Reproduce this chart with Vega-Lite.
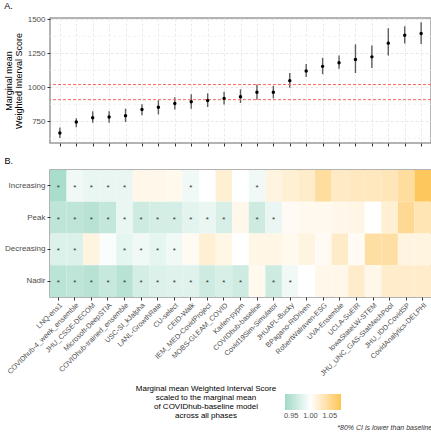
{
  "$schema": "https://vega.github.io/schema/vega-lite/v6.json",
  "padding": {"left": 3, "top": 1, "right": 1, "bottom": 2},
  "background": "white",
  "config": {
    "font": "Liberation Sans",
    "view": {"stroke": "#9a9a9a", "strokeWidth": 1.5},
    "axis": {"labelFont": "Liberation Sans", "labelColor": "#4d4d4d", "labelFontSize": 8, "tickColor": "#333333", "tickSize": 3, "domain": false, "titleFontWeight": "normal", "titleColor": "#000000", "labelPadding": 2},
    "title": {"fontWeight": "normal", "font": "Liberation Sans"}
  },
  "datasets": {
    "scores": [
      {"model": "LNQ-ens1", "wis": 663, "lo": 626, "hi": 705},
      {"model": "COVIDhub-4_week_ensemble", "wis": 745, "lo": 706, "hi": 773},
      {"model": "JHU_CSSE-DECOM", "wis": 776, "lo": 739, "hi": 823},
      {"model": "Microsoft-DeepSTIA", "wis": 781, "lo": 739, "hi": 823},
      {"model": "COVIDhub-trained_ensemble", "wis": 791, "lo": 744, "hi": 843},
      {"model": "USC-SI_kJalpha", "wis": 836, "lo": 794, "hi": 876},
      {"model": "LANL-GrowthRate", "wis": 853, "lo": 801, "hi": 905},
      {"model": "CU-select", "wis": 881, "lo": 836, "hi": 926},
      {"model": "CEID-Walk", "wis": 893, "lo": 843, "hi": 948},
      {"model": "IEM_MED-CovidProject", "wis": 903, "lo": 855, "hi": 955},
      {"model": "MOBS-GLEAM_COVID", "wis": 918, "lo": 873, "hi": 967},
      {"model": "Karlen-pypm", "wis": 930, "lo": 885, "hi": 985},
      {"model": "COVIDhub-baseline", "wis": 963, "lo": 909, "hi": 1020},
      {"model": "Covid19Sim-Simulator", "wis": 963, "lo": 918, "hi": 1010},
      {"model": "JHUAPL-Bucky", "wis": 1049, "lo": 997, "hi": 1105},
      {"model": "BPagano-RtDriven", "wis": 1120, "lo": 1075, "hi": 1172},
      {"model": "RobertWalraven-ESG", "wis": 1154, "lo": 1097, "hi": 1217},
      {"model": "UVA-Ensemble", "wis": 1181, "lo": 1137, "hi": 1234},
      {"model": "UCLA-SuEIR", "wis": 1204, "lo": 1105, "hi": 1316},
      {"model": "IowaStateLW-STEM", "wis": 1224, "lo": 1142, "hi": 1308},
      {"model": "JHU_UNC_GAS-StatMechPool", "wis": 1325, "lo": 1234, "hi": 1435},
      {"model": "JHU_IDD-CovidSP", "wis": 1383, "lo": 1323, "hi": 1450},
      {"model": "CovidAnalytics-DELPHI", "wis": 1396, "lo": 1318, "hi": 1478}
    ],
    "refs": [{"value": 909}, {"value": 1020}],
    "minor": [{"v": 625}, {"v": 875}, {"v": 1125}, {"v": 1375}],
    "heat": [
      {"model": "LNQ-ens1", "phase": "Increasing", "value": 0.940, "sig": "*"},
      {"model": "COVIDhub-4_week_ensemble", "phase": "Increasing", "value": 0.990, "sig": "*"},
      {"model": "JHU_CSSE-DECOM", "phase": "Increasing", "value": 0.985, "sig": "*"},
      {"model": "Microsoft-DeepSTIA", "phase": "Increasing", "value": 0.985, "sig": "*"},
      {"model": "COVIDhub-trained_ensemble", "phase": "Increasing", "value": 0.985, "sig": "*"},
      {"model": "USC-SI_kJalpha", "phase": "Increasing", "value": 1.010, "sig": ""},
      {"model": "LANL-GrowthRate", "phase": "Increasing", "value": 1.010, "sig": ""},
      {"model": "CU-select", "phase": "Increasing", "value": 1.008, "sig": ""},
      {"model": "CEID-Walk", "phase": "Increasing", "value": 0.990, "sig": "*"},
      {"model": "IEM_MED-CovidProject", "phase": "Increasing", "value": 1.000, "sig": ""},
      {"model": "MOBS-GLEAM_COVID", "phase": "Increasing", "value": 1.020, "sig": ""},
      {"model": "Karlen-pypm", "phase": "Increasing", "value": 1.000, "sig": ""},
      {"model": "COVIDhub-baseline", "phase": "Increasing", "value": 0.990, "sig": "*"},
      {"model": "Covid19Sim-Simulator", "phase": "Increasing", "value": 1.015, "sig": ""},
      {"model": "JHUAPL-Bucky", "phase": "Increasing", "value": 1.020, "sig": ""},
      {"model": "BPagano-RtDriven", "phase": "Increasing", "value": 1.025, "sig": ""},
      {"model": "RobertWalraven-ESG", "phase": "Increasing", "value": 1.045, "sig": ""},
      {"model": "UVA-Ensemble", "phase": "Increasing", "value": 1.027, "sig": ""},
      {"model": "UCLA-SuEIR", "phase": "Increasing", "value": 1.030, "sig": ""},
      {"model": "IowaStateLW-STEM", "phase": "Increasing", "value": 1.030, "sig": ""},
      {"model": "JHU_UNC_GAS-StatMechPool", "phase": "Increasing", "value": 1.033, "sig": ""},
      {"model": "JHU_IDD-CovidSP", "phase": "Increasing", "value": 1.045, "sig": ""},
      {"model": "CovidAnalytics-DELPHI", "phase": "Increasing", "value": 1.075, "sig": ""},

      {"model": "LNQ-ens1", "phase": "Peak", "value": 0.955, "sig": "*"},
      {"model": "COVIDhub-4_week_ensemble", "phase": "Peak", "value": 0.955, "sig": "*"},
      {"model": "JHU_CSSE-DECOM", "phase": "Peak", "value": 0.950, "sig": "*"},
      {"model": "Microsoft-DeepSTIA", "phase": "Peak", "value": 0.958, "sig": "*"},
      {"model": "COVIDhub-trained_ensemble", "phase": "Peak", "value": 0.985, "sig": "*"},
      {"model": "USC-SI_kJalpha", "phase": "Peak", "value": 0.965, "sig": "*"},
      {"model": "LANL-GrowthRate", "phase": "Peak", "value": 0.970, "sig": "*"},
      {"model": "CU-select", "phase": "Peak", "value": 0.970, "sig": "*"},
      {"model": "CEID-Walk", "phase": "Peak", "value": 0.980, "sig": "*"},
      {"model": "IEM_MED-CovidProject", "phase": "Peak", "value": 0.985, "sig": "*"},
      {"model": "MOBS-GLEAM_COVID", "phase": "Peak", "value": 0.972, "sig": "*"},
      {"model": "Karlen-pypm", "phase": "Peak", "value": 1.010, "sig": ""},
      {"model": "COVIDhub-baseline", "phase": "Peak", "value": 0.965, "sig": "*"},
      {"model": "Covid19Sim-Simulator", "phase": "Peak", "value": 0.985, "sig": "*"},
      {"model": "JHUAPL-Bucky", "phase": "Peak", "value": 1.005, "sig": ""},
      {"model": "BPagano-RtDriven", "phase": "Peak", "value": 1.008, "sig": ""},
      {"model": "RobertWalraven-ESG", "phase": "Peak", "value": 1.008, "sig": ""},
      {"model": "UVA-Ensemble", "phase": "Peak", "value": 1.010, "sig": ""},
      {"model": "UCLA-SuEIR", "phase": "Peak", "value": 1.012, "sig": ""},
      {"model": "IowaStateLW-STEM", "phase": "Peak", "value": 1.000, "sig": ""},
      {"model": "JHU_UNC_GAS-StatMechPool", "phase": "Peak", "value": 1.020, "sig": ""},
      {"model": "JHU_IDD-CovidSP", "phase": "Peak", "value": 1.050, "sig": ""},
      {"model": "CovidAnalytics-DELPHI", "phase": "Peak", "value": 1.035, "sig": ""},

      {"model": "LNQ-ens1", "phase": "Decreasing", "value": 0.975, "sig": "*"},
      {"model": "COVIDhub-4_week_ensemble", "phase": "Decreasing", "value": 0.975, "sig": "*"},
      {"model": "JHU_CSSE-DECOM", "phase": "Decreasing", "value": 1.015, "sig": ""},
      {"model": "Microsoft-DeepSTIA", "phase": "Decreasing", "value": 0.996, "sig": ""},
      {"model": "COVIDhub-trained_ensemble", "phase": "Decreasing", "value": 0.982, "sig": "*"},
      {"model": "USC-SI_kJalpha", "phase": "Decreasing", "value": 0.990, "sig": "*"},
      {"model": "LANL-GrowthRate", "phase": "Decreasing", "value": 0.982, "sig": "*"},
      {"model": "CU-select", "phase": "Decreasing", "value": 0.990, "sig": "*"},
      {"model": "CEID-Walk", "phase": "Decreasing", "value": 1.006, "sig": ""},
      {"model": "IEM_MED-CovidProject", "phase": "Decreasing", "value": 1.020, "sig": ""},
      {"model": "MOBS-GLEAM_COVID", "phase": "Decreasing", "value": 1.012, "sig": ""},
      {"model": "Karlen-pypm", "phase": "Decreasing", "value": 1.000, "sig": ""},
      {"model": "COVIDhub-baseline", "phase": "Decreasing", "value": 1.012, "sig": ""},
      {"model": "Covid19Sim-Simulator", "phase": "Decreasing", "value": 1.012, "sig": ""},
      {"model": "JHUAPL-Bucky", "phase": "Decreasing", "value": 1.008, "sig": ""},
      {"model": "BPagano-RtDriven", "phase": "Decreasing", "value": 1.015, "sig": ""},
      {"model": "RobertWalraven-ESG", "phase": "Decreasing", "value": 1.005, "sig": ""},
      {"model": "UVA-Ensemble", "phase": "Decreasing", "value": 1.026, "sig": ""},
      {"model": "UCLA-SuEIR", "phase": "Decreasing", "value": 1.005, "sig": ""},
      {"model": "IowaStateLW-STEM", "phase": "Decreasing", "value": 1.043, "sig": ""},
      {"model": "JHU_UNC_GAS-StatMechPool", "phase": "Decreasing", "value": 1.043, "sig": ""},
      {"model": "JHU_IDD-CovidSP", "phase": "Decreasing", "value": 1.015, "sig": ""},
      {"model": "CovidAnalytics-DELPHI", "phase": "Decreasing", "value": 1.015, "sig": ""},

      {"model": "LNQ-ens1", "phase": "Nadir", "value": 0.952, "sig": "*"},
      {"model": "COVIDhub-4_week_ensemble", "phase": "Nadir", "value": 0.955, "sig": "*"},
      {"model": "JHU_CSSE-DECOM", "phase": "Nadir", "value": 0.950, "sig": "*"},
      {"model": "Microsoft-DeepSTIA", "phase": "Nadir", "value": 0.960, "sig": "*"},
      {"model": "COVIDhub-trained_ensemble", "phase": "Nadir", "value": 0.950, "sig": "*"},
      {"model": "USC-SI_kJalpha", "phase": "Nadir", "value": 0.970, "sig": "*"},
      {"model": "LANL-GrowthRate", "phase": "Nadir", "value": 0.975, "sig": "*"},
      {"model": "CU-select", "phase": "Nadir", "value": 0.978, "sig": "*"},
      {"model": "CEID-Walk", "phase": "Nadir", "value": 0.978, "sig": "*"},
      {"model": "IEM_MED-CovidProject", "phase": "Nadir", "value": 0.965, "sig": "*"},
      {"model": "MOBS-GLEAM_COVID", "phase": "Nadir", "value": 0.972, "sig": "*"},
      {"model": "Karlen-pypm", "phase": "Nadir", "value": 0.965, "sig": "*"},
      {"model": "COVIDhub-baseline", "phase": "Nadir", "value": 1.008, "sig": ""},
      {"model": "Covid19Sim-Simulator", "phase": "Nadir", "value": 0.965, "sig": "*"},
      {"model": "JHUAPL-Bucky", "phase": "Nadir", "value": 0.990, "sig": "*"},
      {"model": "BPagano-RtDriven", "phase": "Nadir", "value": 1.000, "sig": ""},
      {"model": "RobertWalraven-ESG", "phase": "Nadir", "value": 1.010, "sig": ""},
      {"model": "UVA-Ensemble", "phase": "Nadir", "value": 1.010, "sig": ""},
      {"model": "UCLA-SuEIR", "phase": "Nadir", "value": 1.025, "sig": ""},
      {"model": "IowaStateLW-STEM", "phase": "Nadir", "value": 1.010, "sig": ""},
      {"model": "JHU_UNC_GAS-StatMechPool", "phase": "Nadir", "value": 1.025, "sig": ""},
      {"model": "JHU_IDD-CovidSP", "phase": "Nadir", "value": 1.025, "sig": ""},
      {"model": "CovidAnalytics-DELPHI", "phase": "Nadir", "value": 1.025, "sig": ""}
    ]
  },
  "title": {"text": "*80% CI is lower than baseline", "orient": "bottom", "anchor": "end", "fontSize": 7, "fontStyle": "italic", "fontWeight": "normal", "color": "#333333", "offset": 4},
  "spacing": 8,
  "resolve": {"scale": {"x": "independent", "y": "independent"}, "axis": {"x": "independent"}},
  "vconcat": [
    {
      "title": {"text": "A.", "anchor": "start", "fontSize": 9, "fontWeight": "normal", "offset": 4, "color": "#000000"},
      "width": 381,
      "height": 125,
      "layer": [
        {
          "data": {"name": "minor"},
          "mark": {"type": "rule", "color": "#efefef", "strokeDash": [3, 2], "strokeWidth": 0.8},
          "encoding": {"y": {"field": "v", "type": "quantitative"}}
        },
        {
          "data": {"name": "scores"},
          "mark": {"type": "rule", "color": "#5e5e5e", "strokeWidth": 1.4},
          "encoding": {
            "x": {"field": "model", "type": "nominal", "sort": ["LNQ-ens1","COVIDhub-4_week_ensemble","JHU_CSSE-DECOM","Microsoft-DeepSTIA","COVIDhub-trained_ensemble","USC-SI_kJalpha","LANL-GrowthRate","CU-select","CEID-Walk","IEM_MED-CovidProject","MOBS-GLEAM_COVID","Karlen-pypm","COVIDhub-baseline","Covid19Sim-Simulator","JHUAPL-Bucky","BPagano-RtDriven","RobertWalraven-ESG","UVA-Ensemble","UCLA-SuEIR","IowaStateLW-STEM","JHU_UNC_GAS-StatMechPool","JHU_IDD-CovidSP","CovidAnalytics-DELPHI"],
              "scale": {"type": "point", "padding": 0.6},
              "axis": {"title": null, "labels": false, "ticks": true, "tickSize": 3, "grid": true, "gridColor": "#e6e6e6", "gridDash": [3, 2], "gridWidth": 0.8}},
            "y": {"field": "lo", "type": "quantitative",
              "scale": {"domain": [590, 1510], "nice": false, "zero": false},
              "axis": {"title": ["Marginal mean", "Weighted Interval Score"], "titleFontSize": 9, "titlePadding": 4, "titleLineHeight": 10,
                "values": [750, 1000, 1250, 1500], "format": "d",
                "gridColor": "#e2e2e2", "gridDash": [3, 2], "gridWidth": 0.8, "grid": true}},
            "y2": {"field": "hi"}
          }
        },
        {
          "data": {"name": "refs"},
          "mark": {"type": "rule", "color": "#ff6060", "strokeDash": [3, 2], "strokeWidth": 1},
          "encoding": {"y": {"field": "value", "type": "quantitative"}}
        },
        {
          "data": {"name": "scores"},
          "mark": {"type": "point", "filled": true, "color": "#000000", "size": 12, "opacity": 1},
          "encoding": {
            "x": {"field": "model", "type": "nominal", "sort": ["LNQ-ens1","COVIDhub-4_week_ensemble","JHU_CSSE-DECOM","Microsoft-DeepSTIA","COVIDhub-trained_ensemble","USC-SI_kJalpha","LANL-GrowthRate","CU-select","CEID-Walk","IEM_MED-CovidProject","MOBS-GLEAM_COVID","Karlen-pypm","COVIDhub-baseline","Covid19Sim-Simulator","JHUAPL-Bucky","BPagano-RtDriven","RobertWalraven-ESG","UVA-Ensemble","UCLA-SuEIR","IowaStateLW-STEM","JHU_UNC_GAS-StatMechPool","JHU_IDD-CovidSP","CovidAnalytics-DELPHI"]},
            "y": {"field": "wis", "type": "quantitative"}
          }
        }
      ]
    },
    {
      "title": {"text": "B.", "anchor": "start", "fontSize": 9, "fontWeight": "normal", "offset": 4, "color": "#000000"},
      "width": 381,
      "height": 127,
      "data": {"name": "heat"},
      "encoding": {
        "x": {"field": "model", "type": "nominal", "sort": ["LNQ-ens1","COVIDhub-4_week_ensemble","JHU_CSSE-DECOM","Microsoft-DeepSTIA","COVIDhub-trained_ensemble","USC-SI_kJalpha","LANL-GrowthRate","CU-select","CEID-Walk","IEM_MED-CovidProject","MOBS-GLEAM_COVID","Karlen-pypm","COVIDhub-baseline","Covid19Sim-Simulator","JHUAPL-Bucky","BPagano-RtDriven","RobertWalraven-ESG","UVA-Ensemble","UCLA-SuEIR","IowaStateLW-STEM","JHU_UNC_GAS-StatMechPool","JHU_IDD-CovidSP","CovidAnalytics-DELPHI"],
          "scale": {"paddingInner": 0, "paddingOuter": 0},
          "axis": {"title": null, "labelAngle": -45, "labelFontSize": 7.2, "tickSize": 3, "labelPadding": 1, "grid": false}},
        "y": {"field": "phase", "type": "nominal", "sort": ["Increasing", "Peak", "Decreasing", "Nadir"],
          "scale": {"paddingInner": 0, "paddingOuter": 0},
          "axis": {"title": null, "labelFontSize": 8, "tickSize": 3, "grid": false}}
      },
      "layer": [
        {
          "mark": {"type": "rect"},
          "encoding": {
            "color": {"field": "value", "type": "quantitative",
              "scale": {"domain": [0.934, 1.0, 1.079], "range": ["#a0d9c7", "#ffffff", "#fdc454"], "interpolate": "lab"},
              "legend": {"orient": "none", "legendX": 86, "legendY": 376, "direction": "horizontal",
                "gradientLength": 56, "gradientThickness": 16,
                "title": ["Marginal mean Weighted Interval Score", "scaled to the marginal mean", "of COVIDhub-baseline model", "across all phases"],
                "titleOrient": "left", "titleAlign": "center", "titleFontSize": 8, "titleFontWeight": "normal", "titleColor": "#000000", "titleLineHeight": 9, "titlePadding": -62,
                "values": [0.95, 1.0, 1.05], "format": ".2f", "labelFontSize": 7.5, "labelColor": "#4d4d4d"}}
          }
        },
        {
          "mark": {"type": "text", "fontSize": 8, "color": "#333333", "dy": 2},
          "encoding": {"text": {"field": "sig", "type": "nominal"}}
        }
      ]
    }
  ]
}
